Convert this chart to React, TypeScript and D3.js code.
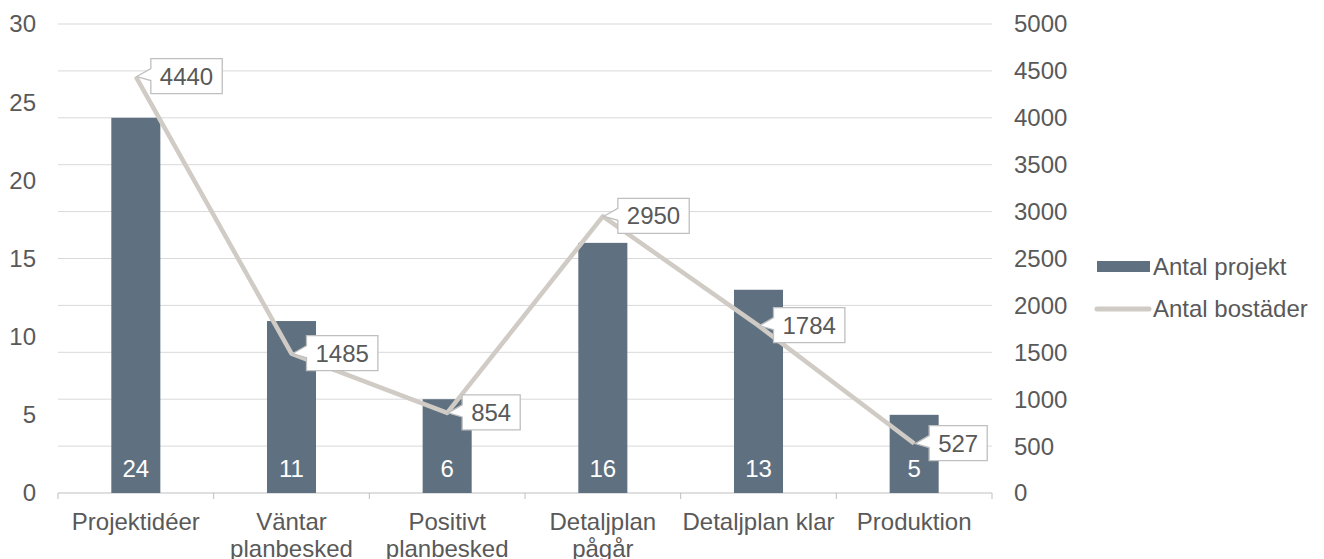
import React from "react";
import * as d3 from "d3";

const categories = ["Projektidéer", "Väntar planbesked", "Positivt planbesked", "Detaljplan pågår", "Detaljplan klar", "Produktion"];
const categoryLines = [["Projektidéer"], ["Väntar", "planbesked"], ["Positivt", "planbesked"], ["Detaljplan", "pågår"], ["Detaljplan klar"], ["Produktion"]];
const projekt = [24, 11, 6, 16, 13, 5];
const bostader = [4440, 1485, 854, 2950, 1784, 527];
const leftTicks = [0, 5, 10, 15, 20, 25, 30];
const rightTicks = [0, 500, 1000, 1500, 2000, 2500, 3000, 3500, 4000, 4500, 5000];
const seriesNames = ["Antal projekt", "Antal bostäder"];

const W = 1324, H = 559;
const M = { left: 58, right: 992, top: 24, bottom: 493 };
const BAR = "#5f7181";
const LINE = "#d0cbc5";
const TXT = "#595959";
const GRID = "#d9d9d9";
const FONT = "Liberation Sans, Arial, sans-serif";
const FS = 24;

export default function App() {
  const x = d3.scaleBand<string>().domain(categories).range([M.left, M.right]).paddingInner(0).paddingOuter(0);
  const yL = d3.scaleLinear().domain([0, 30]).range([M.bottom, M.top]);
  const yR = d3.scaleLinear().domain([0, 5000]).range([M.bottom, M.top]);
  const bw = x.bandwidth() * 0.315;
  const cx = (c: string) => (x(c) as number) + x.bandwidth() / 2;
  const line = d3.line<number>().x((_, i) => cx(categories[i])).y((v) => yR(v));
  const boundaries = categories.map((c) => x(c) as number).concat([M.right]);

  return (
    <svg width={W} height={H} style={{ position: "absolute", left: 0, top: 0, background: "#fff" }} fontFamily={FONT}>
      {rightTicks.map((t) => (
        <line key={t} x1={M.left} x2={M.right} y1={yR(t)} y2={yR(t)} stroke={t === 0 ? "#bfbfbf" : GRID} strokeWidth={1} />
      ))}
      {boundaries.map((b, i) => (
        <line key={i} x1={b} x2={b} y1={M.bottom} y2={M.bottom + 6} stroke="#bfbfbf" />
      ))}
      {leftTicks.map((t) => (
        <text key={t} x={36} y={yL(t)} dy="0.35em" textAnchor="end" fontSize={FS} fill={TXT}>{t}</text>
      ))}
      {rightTicks.map((t) => (
        <text key={t} x={1014} y={yR(t)} dy="0.35em" textAnchor="start" fontSize={FS} fill={TXT}>{t}</text>
      ))}
      {categories.map((c, i) => (
        <rect key={c} x={cx(c) - bw / 2} y={yL(projekt[i])} width={bw} height={M.bottom - yL(projekt[i])} fill={BAR} />
      ))}
      {categories.map((c, i) => (
        <text key={c} x={cx(c)} y={477} textAnchor="middle" fontSize={FS} fill="#fff">{projekt[i]}</text>
      ))}
      <path d={line(bostader) as string} fill="none" stroke={LINE} strokeWidth={4.5} strokeLinejoin="round" />
      {categories.map((c, i) => {
        const px = cx(c), py = yR(bostader[i]);
        const label = String(bostader[i]);
        const w = label.length * 13.35 + 18;
        const bx = px + 15, by = py - 18, bh = 35;
        const d = `M${bx},${by} L${bx + w},${by} L${bx + w},${by + bh} L${bx},${by + bh} L${bx},${by + 22} L${px + 1},${py} L${bx},${by + 10} Z`;
        return (
          <g key={c}>
            <path d={d} fill="#fff" stroke="#bfbfbf" strokeWidth={1.3} />
            <text x={bx + w / 2} y={by + bh / 2} dy="0.36em" textAnchor="middle" fontSize={FS} fill={TXT}>{label}</text>
          </g>
        );
      })}
      {categories.map((c, i) => (
        <text key={c} x={cx(c)} y={530} textAnchor="middle" fontSize={FS} fill={TXT}>
          {categoryLines[i].map((l, j) => (
            <tspan key={j} x={cx(c)} dy={j === 0 ? 0 : 27}>{l}</tspan>
          ))}
        </text>
      ))}
      <rect x={1097} y={261} width={53} height={11} fill={BAR} />
      <text x={1153} y={267} dy="0.35em" fontSize={FS} fill={TXT}>{seriesNames[0]}</text>
      <line x1={1097} x2={1149} y1={309} y2={309} stroke={LINE} strokeWidth={5} strokeLinecap="round" />
      <text x={1153} y={309} dy="0.35em" fontSize={FS} fill={TXT}>{seriesNames[1]}</text>
    </svg>
  );
}
